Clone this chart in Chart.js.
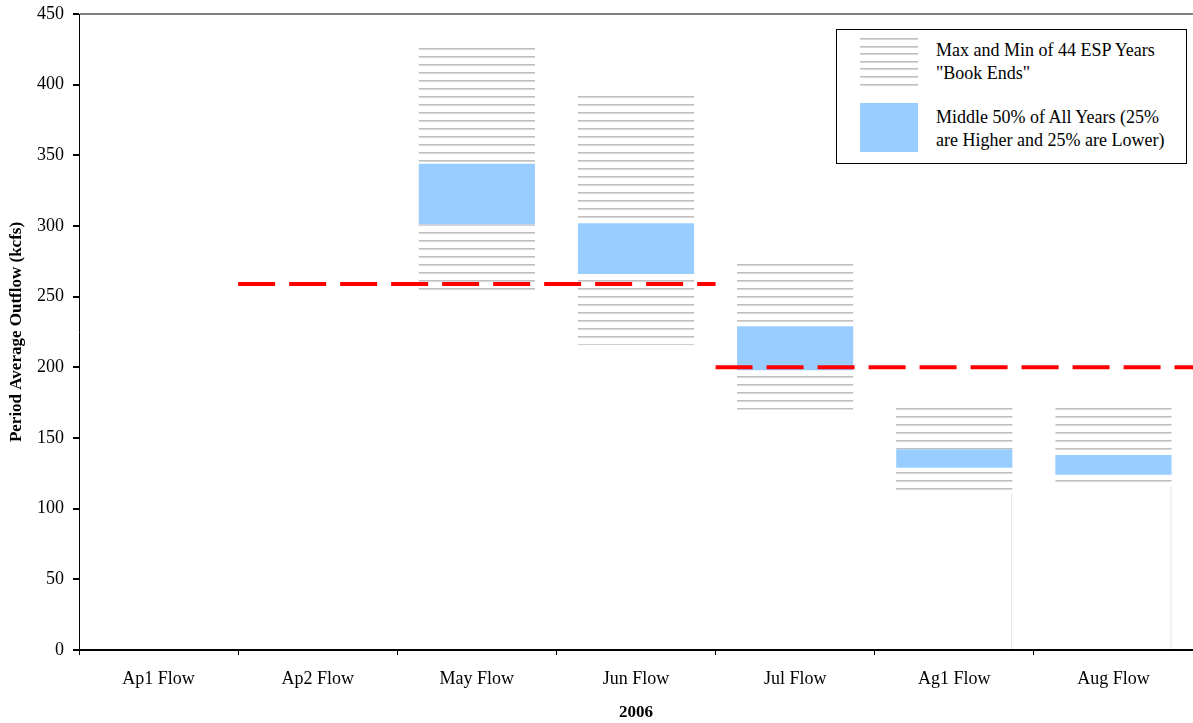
<!DOCTYPE html>
<html>
<head>
<meta charset="utf-8">
<script src="https://cdn.jsdelivr.net/npm/chart.js@4"></script>
<style>
  html, body { margin: 0; padding: 0; background: #fff; }
  #wrap { position: relative; width: 1193px; height: 723px; }
  #legend {
    position: absolute; left: 836px; top: 29px; width: 349px; height: 133px;
    border: 1px solid #000; background: #fff;
    font-family: "Liberation Serif", "Times New Roman", serif; font-size: 18px; line-height: 23px; color: #000;
  }
  .item { position: absolute; left: 23px; }
  .swatch { position: absolute; left: 0; width: 58px; height: 49px; }
  .hatch { background: repeating-linear-gradient(to bottom, #bfbfbf 0 1px, #d6d6d6 1px 2px, #fff 2px 7.6px); }
  .blue { background: #99ccff; }
  .label { position: absolute; left: 76px; top: 2px; white-space: nowrap; }
</style>
</head>
<body>
<div id="wrap">
  <canvas id="flowChart" width="1193" height="723"></canvas>
  <div id="legend">
    <div class="item" style="top:8px"><div class="swatch hatch"></div><div class="label" style="top:1px">Max and Min of 44 ESP Years<br>"Book Ends"</div></div>
    <div class="item" style="top:73px"><div class="swatch blue"></div><div class="label" style="top:3px">Middle 50% of All Years (25%<br>are Higher and 25% are Lower)</div></div>
  </div>
</div>
<script>
// Period average outflow, 2006
const periods = ["Ap1 Flow", "Ap2 Flow", "May Flow", "Jun Flow", "Jul Flow", "Ag1 Flow", "Aug Flow"];
const flowMin = [null, null, 253, 216, 170, 111, 116];
const flowQ25 = [null, null, 301, 266, 198, 129, 124];
const flowQ75 = [null, null, 344, 302, 229, 142, 138];
const flowMax = [null, null, 428, 395, 276, 173, 173];
const targetFlow = [null, 259, 259, 259, 200, 200, 200];

const serif = "'Liberation Serif', 'Times New Roman', serif";

// horizontal line fill for the book ends
function hatchPattern() {
  const c = document.createElement("canvas");
  c.width = 8; c.height = 8;
  const g = c.getContext("2d");
  g.fillStyle = "#bfbfbf"; g.fillRect(0, 0, 8, 1);
  g.fillStyle = "#d6d6d6"; g.fillRect(0, 1, 8, 1);
  return g.createPattern(c, "repeat");
}
const hatch = hatchPattern();

const diff = (a, b) => a.map((v, i) => (v == null ? null : v - b[i]));

// target line segments on a linear 0..7 axis across category bounds
const targetPts = [];
targetFlow.forEach((v, i) => {
  if (v == null) return;
  const prev = targetFlow[i - 1];
  if (prev !== v) {
    if (targetPts.length) targetPts.push({ x: i, y: null });
    targetPts.push({ x: i, y: v });
  }
  targetPts.push({ x: i + 1, y: v });
});

const barOpts = { grouped: false, barPercentage: 0.73, categoryPercentage: 1 };

new Chart(document.getElementById("flowChart"), {
  data: {
    labels: periods,
    datasets: [
      { type: "bar", label: "base", data: flowMin, backgroundColor: "transparent",
        borderColor: periods.map((p, i) => (i >= 5 ? "#d8d8d8" : "transparent")),
        borderWidth: { top: 0, left: 0, bottom: 0, right: 1 }, borderSkipped: false, ...barOpts },
      { type: "bar", label: "low", data: diff(flowQ25, flowMin), backgroundColor: hatch, ...barOpts },
      { type: "bar", label: "mid", data: diff(flowQ75, flowQ25), backgroundColor: "#99ccff", ...barOpts },
      { type: "bar", label: "high", data: diff(flowMax, flowQ75), backgroundColor: hatch, ...barOpts },
      { type: "line", label: "target", data: targetPts, xAxisID: "x2", yAxisID: "y",
        borderColor: "#ff0000", borderWidth: 4, borderDash: [37, 14], pointRadius: 0,
        spanGaps: false, order: -1 }
    ]
  },
  options: {
    responsive: false,
    animation: false,
    layout: { padding: { top: 14, right: 0, left: 0, bottom: 0 } },
    plugins: { legend: { display: false }, tooltip: { enabled: false } },
    scales: {
      x: {
        stacked: true,
        afterFit: s => { s.height = 73; },
        border: { color: "#000", width: 2 },
        grid: { drawOnChartArea: false, tickLength: 5, tickColor: "#000", offset: true },
        ticks: { font: { family: serif, size: 18 }, color: "#000", padding: 13, maxRotation: 0 },
        title: { display: true, text: "2006", font: { family: serif, size: 17, weight: "bold" }, color: "#000", padding: { top: 0, bottom: 0 } }
      },
      x2: { type: "linear", min: 0, max: 7, display: false },
      y: {
        stacked: true, min: 0, max: 450,
        afterFit: s => { s.width = 79; s.paddingTop = 0; s.paddingBottom = 0; },
        border: { color: "#000", width: 1 },
        grid: { color: c => (c.tick && c.tick.value === 450 ? "#808080" : "transparent"), lineWidth: 2, tickLength: 6, tickColor: "#000" },
        ticks: { stepSize: 50, font: { family: serif, size: 18 }, color: "#000", padding: 9 },
        title: { display: true, text: "Period Average Outflow (kcfs)", font: { family: serif, size: 17, weight: "bold" }, color: "#000", padding: { top: 6, bottom: 0 } }
      }
    }
  }
});
</script>
</body>
</html>
